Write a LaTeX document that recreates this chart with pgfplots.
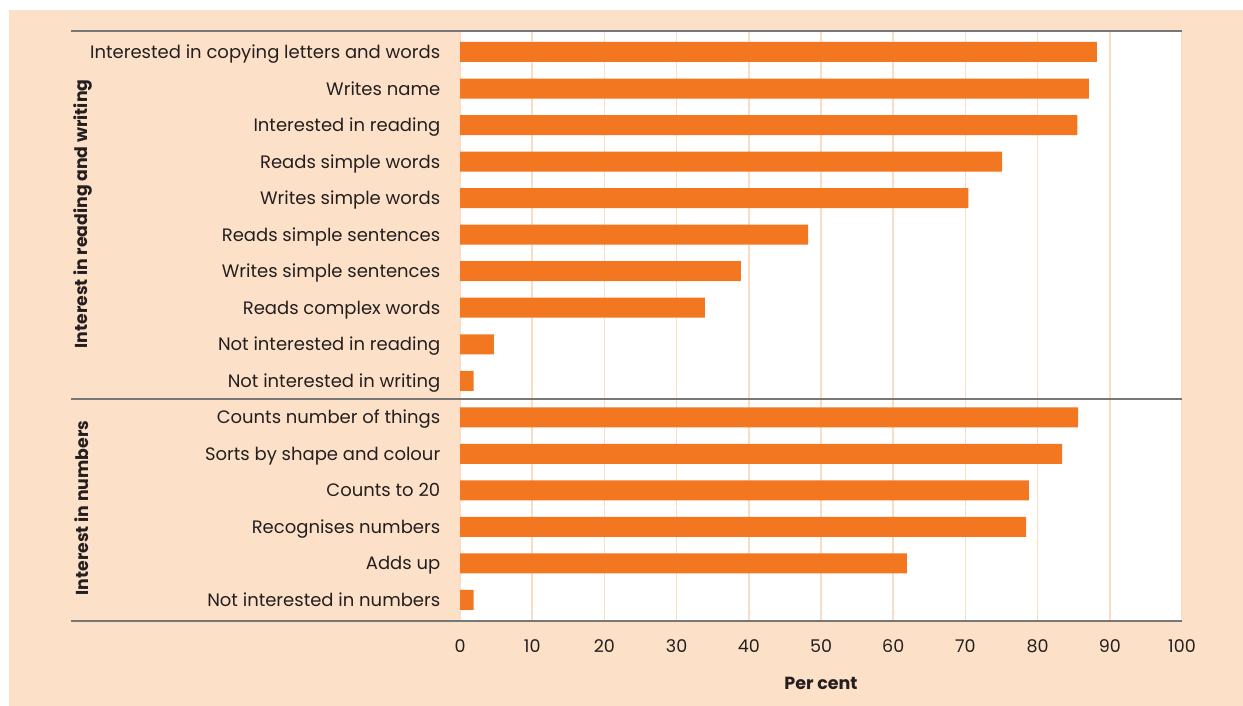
\documentclass[border=0pt]{standalone}
\usepackage{pgfplots}
\pgfplotsset{compat=1.18}
\usepackage{fontspec}
\setmainfont{Poppins}
\definecolor{peach}{HTML}{FDE0C8}
\definecolor{gridpeach}{HTML}{FBDCC4}
\definecolor{barorange}{HTML}{F37721}
\definecolor{rulegray}{HTML}{777777}
\definecolor{txt}{HTML}{231F20}
\begin{document}
\begin{tikzpicture}[x=1bp,y=1bp]
\fill[white] (0,0) rectangle (1243,706);
\fill[peach] (9,0) rectangle (1243,696);
\begin{axis}[
  at={(460bp,85bp)}, anchor=south west,
  scale only axis, width=722bp, height=590bp,
  xbar, bar width=20bp,
  xmin=0, xmax=100, ymin=0.425, ymax=16.575, y dir=reverse,
  xtick={0,10,...,100}, ytick={1,...,16},
  yticklabels={Interested in copying letters and words, Writes name, Interested in reading, Reads simple words, Writes simple words, Reads simple sentences, Writes simple sentences, Reads complex words, Not interested in reading, Not interested in writing, Counts number of things, Sorts by shape and colour, Counts to 20, Recognises numbers, Adds up, Not interested in numbers},
  axis background/.style={fill=white},
  axis line style={draw=none},
  major tick style={draw=none},
  xmajorgrids, major grid style={gridpeach, line width=1.5bp},
  /pgf/number format/assume math mode=true,
  ticklabel style={text=txt},
  yticklabel style={font=\fontsize{18bp}{20bp}\selectfont, anchor=base east, xshift=-12bp, yshift=-6.5bp},
  xticklabel style={font=\fontsize{17.5bp}{20bp}\selectfont, yshift=-15bp},
  xlabel={Per cent},
  xlabel style={font=\fontsize{17.5bp}{20bp}\selectfont\bfseries, text=txt, yshift=-18bp},
]
\addplot[draw=none, fill=barorange] coordinates {
(88.2,1) (87.1,2) (85.5,3) (75.1,4) (70.4,5) (48.2,6) (38.9,7) (33.9,8) (4.7,9) (1.9,10)
(85.6,11) (83.4,12) (78.8,13) (78.4,14) (61.9,15) (1.9,16)};
\end{axis}
\draw[rulegray, line width=1.5bp] (71,675) -- (1182,675);
\draw[rulegray, line width=1.5bp] (71,307) -- (1182,307);
\draw[rulegray, line width=1.5bp] (71,85) -- (1182,85);
\node[rotate=90, font=\fontsize{17.3bp}{20bp}\selectfont\bfseries, text=txt] at (83,492) {Interest in reading and writing};
\node[rotate=90, font=\fontsize{17.3bp}{20bp}\selectfont\bfseries, text=txt] at (82,198) {Interest in numbers};
\end{tikzpicture}
\end{document}
